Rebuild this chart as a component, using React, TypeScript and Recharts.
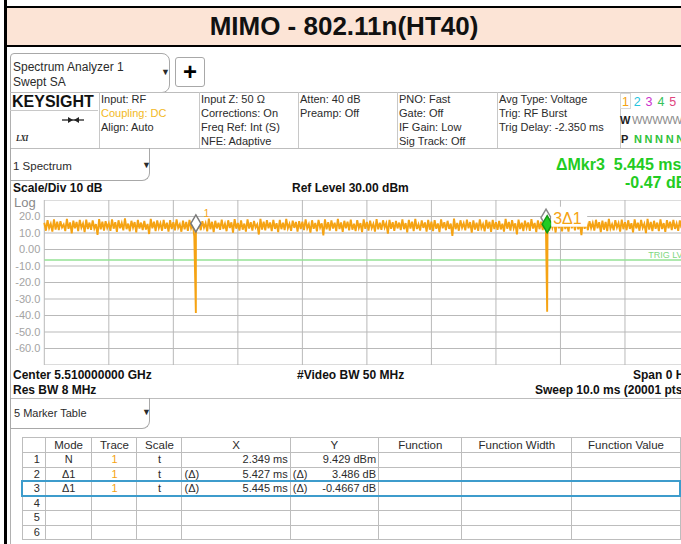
import type { CSSProperties, ReactNode } from 'react';
import { CartesianGrid, Line, LineChart, ReferenceDot, ReferenceLine, XAxis, YAxis } from 'recharts';

// Trace 1 (dBm), evenly spaced over the 10 ms sweep.
const TRACE_DBM = [
  16.2, 11.4, 17.8, 12.9, 15.6, 10.9, 18.3, 12.1, 16.9, 11.7, 17.2, 13.4, 15.1, 11.2, 18.6, 12.5, 16.4, 9.8, 17.5, 12.8,
  16.7, 11.1, 17.9, 13.2, 15.8, 10.6, 18.1, 12.4, 16.3, 11.9, 17.6, 12.7, 15.4, 8.9, 18.4, 12.2, 16.8, 11.5, 17.1, 13.1,
  15.9, 11.3, 18.2, 12.6, 16.5, 10.7, 17.7, 12.9, 16.1, 11.6, 18.8, 12.3, 15.7, 11.0, 17.4, 13.3, 16.6, 10.4, 17.9, 12.7,
  16.3, 11.8, 17.3, 12.1, 15.5, 9.4, 18.5, 12.8, 16.9, 11.2, 17.6, 13.0, 15.9, 11.4, 18.0, 12.5, 16.2, 10.9, 17.8, 12.4,
  16.6, 11.6, 18.3, 13.1, 15.3, 10.8, 17.5, 12.2, 16.7, 11.3, 17.9, 12.9, 15.8, 7.9, 18.2, 12.6, 16.4, 11.7, 17.2, 13.2,
  16.0, 11.0, 18.7, 12.3, 16.8, 10.5, 17.4, 12.8, 16.2, 11.9, 18.1, 12.4, 15.6, 11.1, 17.7, 13.0, 16.5, 10.2, 18.4, 12.6,
  16.1, 11.5, 17.6, 12.0, 15.7, 10.8, 18.2, 12.7, 16.6, 11.4, 17.3, 13.3, 15.2, 9.1, 18.6, 12.1, 16.9, 11.6, 17.8, 12.9,
  16.4, 11.2, 17.9, 12.5, 15.9, 10.6, 18.0, 12.3, 16.3, 11.8, 18.5, 12.8, 15.5, 11.3, 17.5, 13.1, 16.7, 10.9, 17.2, 12.4,
  16.8, 11.7, 18.3, 12.9, 15.4, 10.3, 17.7, 12.6, 16.1, 11.0, 17.9, 13.2, 15.8, 8.6, 18.2, 12.2, 16.5, 11.5, 17.6, 12.7,
  16.2, 11.1, 18.6, 12.4, 16.4, 10.7, 17.4, 12.8, 16.9, 11.6, 18.1, 12.0, 15.6, 11.2, 17.8, 13.0, 16.0, 10.5, 18.3, 12.5,
  16.7, 11.4, 17.5, 12.9, 15.5, 10.9, 18.4, 12.2, 16.2, 11.9, 17.7, 13.3, 15.9, 9.6, 18.0, 12.6, 16.6, 11.3, 17.3, 12.8,
  16.3, 11.8, 18.2, 12.3, 16.0, 10.4, 17.9, 12.7, 16.8, 11.1, 18.5, 12.4, 15.3, 11.5, 17.6, 13.1, 16.4, 10.8, 17.9, 12.0,
  16.9, 11.2, 17.8, 12.6, 15.8, 10.6, 18.3, 12.9, 16.5, 11.7, 17.4, 12.5, 15.7, 8.3, 18.7, 12.3, 16.1, 11.4, 17.7, 13.2,
  16.0, 11.6, 18.1, 12.8, 16.6, 10.2, 17.6, 12.1, 16.3, 11.3, 18.2, 13.0, 15.4, 11.0, 17.9, 12.7, 16.8, 10.7, 18.0, 12.4,
  16.5, 11.9, 17.3, 12.2, 15.6, 10.9, 18.6, 12.6, 16.7, 11.5, 17.8, 12.9, 15.9, 9.2, 18.1, 12.4, 16.2, 11.1, 17.5, 13.1,
  16.4, 11.3, 18.4, 12.7, 16.1, 10.5, 17.7, 12.3, 16.9, 11.8, 18.3, 12.6, 15.5, 11.4, 17.4, 13.2, 16.6, 10.3, 18.2, 12.8,
  16.8, 11.0, 17.9, 12.4, 15.7, 10.8, 18.5, 12.9, 16.3, 11.6, 17.6, 12.2, 15.8, 8.7, 18.4, 12.5, 16.4, 11.7, 17.2, 13.0,
  16.1, 11.5, 18.0, 12.9, 16.5, 10.6, 17.5, 12.0, 16.7, 11.2, 18.6, 12.7, 15.3, 11.6, 17.8, 13.3, 16.0, 10.9, 18.1, 12.3,
  16.6, 11.7, 17.7, 12.5, 15.9, 10.4, 18.2, 12.8, 16.2, 11.4, 17.9, 13.1, 15.6, 9.9, 18.5, 12.1, 16.7, 11.2, 17.4, 12.6,
  16.3, 11.1, 18.3, 12.4, 16.0, 10.7, 17.8, 12.9, 16.8, 11.8, 18.0, 12.5, 15.7, 11.3, 17.6, 13.0, 16.5, 10.6, 17.9, 12.2,
  16.4,
];
const SWEEP_MS = 10;
// the two burst gaps the markers sit on
const DIP_MS = [2.349, 7.794];
const DIP_DBM = [-38.5, -37.7];

const X_TICKS = [0, 1, 2, 3, 4, 5, 6, 7, 8, 9, 10];
const Y_TICKS = [30, 20, 10, 0, -10, -20, -30, -40, -50, -60, -70];
const TRIG_DBM = -6.4;

// marker table
const MKR_NUM = [1, 2, 3, 4, 5, 6];
const MKR_MODE = ['N', 'Δ1', 'Δ1'];
const MKR_X_MS = [2.349, 5.427, 5.445];
const MKR_Y = [9.429, 3.486, -0.4667];
const MKR_Y_UNIT = ['dBm', 'dB', 'dB'];

const ORANGE = '#F5A313';
const GREEN = '#22CC22';
const FONT = "'Liberation Sans', Arial, sans-serif";

const step = SWEEP_MS / (TRACE_DBM.length - 1);
const traceData = [
  ...TRACE_DBM.map((dbm, i) => ({ ms: i * step, dbm })),
  ...DIP_MS.map((ms, i) => ({ ms, dbm: DIP_DBM[i] })),
].sort((a, b) => a.ms - b.ms);

// absolute marker positions (2 and 3 are deltas off marker 1)
const m1 = { x: MKR_X_MS[0], y: MKR_Y[0] };
const m2 = { x: MKR_X_MS[0] + MKR_X_MS[1], y: MKR_Y[0] + MKR_Y[1] };
const m3 = { x: MKR_X_MS[0] + MKR_X_MS[2], y: MKR_Y[0] + MKR_Y[2] };

const fmtDbm = (v: number) => (v === 30 || v === -70 ? '' : v === 0 ? '0.00' : v.toFixed(1));

function Txt({ x, y, children, size = 11, bold, color = '#2b2b2b', style }: {
  x: number; y: number; children: ReactNode; size?: number; bold?: boolean; color?: string; style?: CSSProperties;
}) {
  return (
    <div
      style={{
        position: 'absolute', left: x, top: y - 8, fontSize: size, lineHeight: '16px',
        fontWeight: bold ? 700 : 400, color, whiteSpace: 'nowrap', ...style,
      }}
    >
      {children}
    </div>
  );
}

function Box({ x, y, w, h, style }: { x: number; y: number; w: number; h: number; style?: CSSProperties }) {
  return <div style={{ position: 'absolute', left: x, top: y, width: w, height: h, boxSizing: 'border-box', ...style }} />;
}

function Diamond({ cx, cy, fill, stroke, label, boxed }: any) {
  const top = cy - 19, mid = cy - 10.5, bot = cy - 2;
  return (
    <g>
      <polygon points={`${cx},${top} ${cx + 5},${mid} ${cx},${bot} ${cx - 5},${mid}`} fill={fill} stroke={stroke} strokeWidth={1.5} />
      {label && boxed && (
        <g>
          <rect x={cx + 4} y={cy - 28} width={36} height={20} fill="#fff" />
          <text x={cx + 6} y={cy - 11} fontSize={16} fill={ORANGE} fontFamily={FONT}>{label}</text>
        </g>
      )}
      {label && !boxed && (
        <text x={cx + 8} y={cy - 17} fontSize={10} fill={ORANGE} fontFamily={FONT}>{label}</text>
      )}
    </g>
  );
}

const HEAD_COLS = [
  { x: 101, lines: ['Input: RF', 'Coupling: DC', 'Align: Auto'] },
  { x: 201, lines: ['Input Z: 50 Ω', 'Corrections: On', 'Freq Ref: Int (S)', 'NFE: Adaptive'] },
  { x: 300, lines: ['Atten: 40 dB', 'Preamp: Off'] },
  { x: 399, lines: ['PNO: Fast', 'Gate: Off', 'IF Gain: Low', 'Sig Track: Off'] },
  { x: 499, lines: ['Avg Type: Voltage', 'Trig: RF Burst', 'Trig Delay: -2.350 ms'] },
];
const HEAD_SEPS = [98.5, 199, 298, 397, 497, 619.5];
const TRACE_COLORS = ['#F5A313', '#25C4DE', '#CC33CC', '#35C25A', '#E0457E', '#8a8a8a'];

const COL_W = [23.3, 46.7, 45, 45, 108.3, 88.3, 83.3, 110, 108.3];
const COL_HEAD = ['', 'Mode', 'Trace', 'Scale', 'X', 'Y', 'Function', 'Function Width', 'Function Value'];

function MarkerTable() {
  const cell: CSSProperties = {
    border: '1px solid #bdbdbd', padding: '0 2px', fontSize: 11, lineHeight: '13px', color: '#2b2b2b',
    whiteSpace: 'nowrap', overflow: 'hidden',
  };
  return (
    <table
      style={{
        position: 'absolute', left: 21.5, top: 437, borderCollapse: 'collapse', tableLayout: 'fixed',
        width: COL_W.reduce((a, b) => a + b, 0), fontFamily: FONT,
      }}
    >
      <colgroup>
        {COL_W.map((w, i) => <col key={i} style={{ width: w }} />)}
      </colgroup>
      <tbody>
        <tr style={{ height: 15 }}>
          {COL_HEAD.map((h, i) => (
            <td key={i} style={{ ...cell, textAlign: 'center', fontSize: 11.5 }}>{h}</td>
          ))}
        </tr>
        {MKR_NUM.map((n, r) => {
          const has = r < MKR_MODE.length;
          const delta = r > 0;
          return (
            <tr key={n} style={{ height: 14.5 }}>
              <td style={{ ...cell, textAlign: 'right', paddingRight: 5 }}>{n}</td>
              <td style={{ ...cell, textAlign: 'center' }}>{has ? MKR_MODE[r] : ''}</td>
              <td style={{ ...cell, textAlign: 'center', color: ORANGE }}>{has ? '1' : ''}</td>
              <td style={{ ...cell, textAlign: 'center' }}>{has ? 't' : ''}</td>
              <td style={cell}>
                {has && (
                  <div style={{ display: 'flex', justifyContent: 'space-between' }}>
                    <span>{delta ? '(Δ)' : ''}</span>
                    <span>{MKR_X_MS[r].toFixed(3)} ms</span>
                  </div>
                )}
              </td>
              <td style={cell}>
                {has && (
                  <div style={{ display: 'flex', justifyContent: 'space-between' }}>
                    <span>{delta ? '(Δ)' : ''}</span>
                    <span>{MKR_Y[r]} {MKR_Y_UNIT[r]}</span>
                  </div>
                )}
              </td>
              <td style={cell} />
              <td style={cell} />
              <td style={cell} />
            </tr>
          );
        })}
      </tbody>
    </table>
  );
}

export default function App() {
  return (
    <div
      style={{
        position: 'absolute', left: 0, top: 0, width: 681, height: 544, overflow: 'hidden',
        background: '#fff', fontFamily: FONT,
      }}
    >
      {/* outer sheet frame + title band */}
      <Box x={4} y={0} w={3} h={544} style={{ background: '#000' }} />
      <Box x={4} y={6} w={677} h={2} style={{ background: '#000' }} />
      <Box x={7} y={8} w={674} h={37} style={{ background: '#FCE4D6' }} />
      <Box x={4} y={45} w={677} h={2} style={{ background: '#000' }} />
      <div
        style={{
          position: 'absolute', left: 7, width: 674, top: 8, height: 37, lineHeight: '37px', textAlign: 'center',
          fontSize: 26, fontWeight: 700, color: '#111', fontFamily: FONT,
        }}
      >
        MIMO - 802.11n(HT40)
      </div>

      {/* analyzer frame */}
      <Box x={10} y={92} w={1} h={452} style={{ background: '#b0b0b0' }} />

      {/* screen tab + plus button */}
      <Box x={10} y={53} w={160} h={40} style={{ border: '1px solid #a8a8a8', borderRadius: '4px 8px 8px 0' }} />
      <Txt x={13} y={67} size={12}>Spectrum Analyzer 1</Txt>
      <Txt x={13} y={82} size={12}>Swept SA</Txt>
      <Txt x={161} y={72} size={9}>▼</Txt>
      <Box x={175} y={57} w={30} h={30} style={{ border: '1px solid #a8a8a8', borderRadius: 3 }} />
      <div style={{ position: 'absolute', left: 175, top: 57, width: 30, height: 30, lineHeight: '29px', textAlign: 'center', fontSize: 24, fontWeight: 700 }}>+</div>

      {/* settings header */}
      <Box x={10} y={91.5} w={671} h={1} style={{ background: '#bdbdbd' }} />
      <Box x={10} y={148} w={671} h={1} style={{ background: '#bdbdbd' }} />
      <Box x={10} y={110} w={88} h={1} style={{ background: '#c8c8c8' }} />
      {HEAD_SEPS.map((x) => (
        <Box key={x} x={x} y={92} w={1} h={56} style={{ background: '#c8c8c8' }} />
      ))}
      <Txt x={12} y={102} size={16} bold color="#111">KEYSIGHT</Txt>
      <svg style={{ position: 'absolute', left: 60, top: 114 }} width={26} height={12}>
        <line x1={2} y1={6} x2={24} y2={6} stroke="#222" strokeWidth={1.3} />
        <polygon points="8,3 13,6 8,9" fill="#222" />
        <polygon points="19,3 14,6 19,9" fill="#222" />
      </svg>
      <Txt x={16} y={139} size={8} bold style={{ fontStyle: 'italic', fontFamily: 'serif', letterSpacing: -0.5 }}>LXI</Txt>
      {HEAD_COLS.map((c) =>
        c.lines.map((l, i) => (
          <Txt key={l} x={c.x} y={99 + i * 14} color={l.startsWith('Coupling') ? '#F2B824' : '#2b2b2b'}>{l}</Txt>
        )),
      )}
      <Box x={620} y={93} w={11} h={16} style={{ border: '1px solid #d8d8d8' }} />
      {TRACE_COLORS.map((c, i) => (
        <Txt key={i} x={622 + i * 11.8} y={101.5} size={12.5} color={c}>{i + 1}</Txt>
      ))}
      <Txt x={620} y={120} size={11} bold color="#222">W</Txt>
      <Txt x={632} y={120} size={11} color="#8a8a8a" style={{ letterSpacing: -0.3 }}>WWWWW</Txt>
      <Txt x={621} y={139} size={11} bold color="#222">P</Txt>
      <Txt x={634} y={139} size={11} bold color="#2fc23a" style={{ letterSpacing: 2.6 }}>NNNNN</Txt>

      {/* window tab + plot annotations */}
      <Box x={10} y={148} w={140} h={33} style={{ border: '1px solid #a8a8a8', borderTop: 'none', borderRadius: '0 0 8px 0' }} />
      <Txt x={13} y={166} size={11.5}>1 Spectrum</Txt>
      <Txt x={142} y={165} size={9}>▼</Txt>
      <Txt x={13} y={188} size={12} bold color="#111">Scale/Div 10 dB</Txt>
      <Txt x={292} y={188} size={12} bold color="#111">Ref Level 30.00 dBm</Txt>
      <Txt x={556} y={165} size={16} bold color={GREEN}>ΔMkr3&nbsp;&nbsp;5.445 ms</Txt>
      <Txt x={625} y={183} size={16} bold color={GREEN}>-0.47 dB</Txt>
      <Txt x={14} y={203} size={13} color="#8a8a8a">Log</Txt>

      <div style={{ position: 'absolute', left: 10, top: 200 }}>
        <LineChart width={679.5} height={165} data={traceData} margin={{ top: 0, right: 0, bottom: 0, left: 0 }}>
          <CartesianGrid stroke="#b9b9b9" />
          <XAxis type="number" dataKey="ms" domain={[0, SWEEP_MS]} ticks={X_TICKS} hide />
          <YAxis
            type="number"
            domain={[-70, 30]}
            ticks={Y_TICKS}
            interval={0}
            width={34.3}
            axisLine={false}
            tickLine={false}
            tickSize={2}
            tickMargin={2}
            tick={{ fontSize: 11, fill: '#a3a3a3', fontFamily: FONT }}
            tickFormatter={fmtDbm}
          />
          <ReferenceLine
            y={TRIG_DBM}
            stroke="#95e295"
            strokeWidth={1.5}
            label={{ value: 'TRIG LVL', position: 'insideBottomRight', offset: 2, fill: '#7fd87f', fontSize: 9 }}
          />
          <Line type="linear" dataKey="dbm" stroke={ORANGE} strokeWidth={1.9} dot={false} isAnimationActive={false} />
          <ReferenceDot x={m1.x} y={m1.y} r={0} shape={(p: any) => <Diamond cx={p.cx} cy={p.cy} fill="#fff" stroke="#7a7a7a" label="1" />} />
          <ReferenceDot x={m2.x} y={m2.y} r={0} shape={(p: any) => <Diamond cx={p.cx} cy={p.cy} fill="#fff" stroke="#8a8a8a" />} />
          <ReferenceDot x={m3.x} y={m3.y} r={0} shape={(p: any) => <Diamond cx={p.cx} cy={p.cy} fill={GREEN} stroke="#139a13" label="3Δ1" boxed />} />
        </LineChart>
      </div>

      <Txt x={13} y={375} size={12} bold color="#111">Center 5.510000000 GHz</Txt>
      <Txt x={297} y={375} size={12} bold color="#111">#Video BW 50 MHz</Txt>
      <Txt x={633} y={375} size={12} bold color="#111">Span 0 Hz</Txt>
      <Txt x={13} y={390} size={12} bold color="#111">Res BW 8 MHz</Txt>
      <Txt x={535} y={390} size={12} bold color="#111">Sweep 10.0 ms (20001 pts)</Txt>
      <Box x={10} y={398} w={671} h={1} style={{ background: '#bdbdbd' }} />

      {/* marker table window */}
      <Box x={10} y={398} w={140} h={31} style={{ border: '1px solid #a8a8a8', borderTop: 'none', borderRadius: '0 0 8px 0' }} />
      <Txt x={14} y={413} size={11}>5 Marker Table</Txt>
      <Txt x={142} y={412} size={9}>▼</Txt>
      <MarkerTable />
      <Box x={21} y={480} w={660} h={16.5} style={{ border: '2px solid #3d9ccc' }} />
    </div>
  );
}
